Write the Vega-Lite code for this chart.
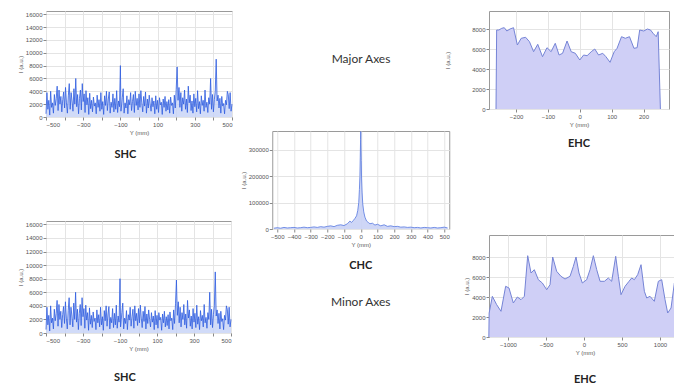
{
  "$schema": "https://vega.github.io/schema/vega-lite/v6.json",
  "padding": {"left": 16, "top": 10, "right": 0, "bottom": 0},
  "background": "white",
  "config": {
    "font": "Lato",
    "view": {"stroke": "#9a9a9a", "strokeWidth": 1},
    "axis": {"labelFontSize": 6, "titleFontSize": 6, "labelColor": "#555", "titleColor": "#555", "titleFontWeight": "normal", "tickColor": "#888", "tickSize": 3, "domain": false, "gridColor": "#e4e4e4", "labelFont": "Liberation Sans", "titleFont": "Liberation Sans", "labelPadding": 1, "titlePadding": 2},
    "title": {"font": "Lato", "fontSize": 11, "fontWeight": "bold", "color": "#222"}
  },
  "datasets": {
    "shc": [
      {"x": -500, "y": 500}, {"x": -495, "y": 3800}, {"x": -490, "y": 1200}, {"x": -485, "y": 2600}, {"x": -480, "y": 300}, {"x": -475, "y": 4000}, {"x": -470, "y": 1500}, {"x": -465, "y": 2200}, {"x": -460, "y": 600}, {"x": -455, "y": 3500},
      {"x": -450, "y": 1800}, {"x": -445, "y": 2900}, {"x": -440, "y": 4800}, {"x": -435, "y": 1000}, {"x": -430, "y": 4200}, {"x": -425, "y": 2000}, {"x": -420, "y": 3200}, {"x": -415, "y": 800}, {"x": -410, "y": 2700}, {"x": -405, "y": 3900},
      {"x": -400, "y": 1400}, {"x": -395, "y": 4600}, {"x": -390, "y": 2200}, {"x": -385, "y": 600}, {"x": -380, "y": 3300}, {"x": -375, "y": 5200}, {"x": -370, "y": 1200}, {"x": -365, "y": 3800}, {"x": -360, "y": 2500}, {"x": -355, "y": 900},
      {"x": -350, "y": 4400}, {"x": -345, "y": 2000}, {"x": -340, "y": 6000}, {"x": -335, "y": 1600}, {"x": -330, "y": 3500}, {"x": -325, "y": 500}, {"x": -320, "y": 2900}, {"x": -315, "y": 4200}, {"x": -310, "y": 1100}, {"x": -305, "y": 5200},
      {"x": -300, "y": 2400}, {"x": -295, "y": 3600}, {"x": -290, "y": 700}, {"x": -285, "y": 4100}, {"x": -280, "y": 1900}, {"x": -275, "y": 3000}, {"x": -270, "y": 400}, {"x": -265, "y": 3700}, {"x": -260, "y": 1300}, {"x": -255, "y": 2600},
      {"x": -250, "y": 800}, {"x": -245, "y": 3100}, {"x": -240, "y": 1700}, {"x": -235, "y": 2200}, {"x": -230, "y": 500}, {"x": -225, "y": 3400}, {"x": -220, "y": 1500}, {"x": -215, "y": 2700}, {"x": -210, "y": 900}, {"x": -205, "y": 3800},
      {"x": -200, "y": 1200}, {"x": -195, "y": 2400}, {"x": -190, "y": 400}, {"x": -185, "y": 3300}, {"x": -180, "y": 1800}, {"x": -175, "y": 4000}, {"x": -170, "y": 1000}, {"x": -165, "y": 2800}, {"x": -160, "y": 3900}, {"x": -155, "y": 600},
      {"x": -150, "y": 2300}, {"x": -145, "y": 1500}, {"x": -140, "y": 3600}, {"x": -135, "y": 800}, {"x": -130, "y": 2900}, {"x": -125, "y": 1200}, {"x": -120, "y": 4100}, {"x": -115, "y": 700}, {"x": -110, "y": 2500}, {"x": -105, "y": 1600},
      {"x": -100, "y": 8000}, {"x": -97, "y": 900}, {"x": -93, "y": 2000}, {"x": -90, "y": 3000}, {"x": -85, "y": 4400}, {"x": -80, "y": 600}, {"x": -75, "y": 2200}, {"x": -70, "y": 1400}, {"x": -65, "y": 3300}, {"x": -60, "y": 500},
      {"x": -55, "y": 2700}, {"x": -50, "y": 1900}, {"x": -45, "y": 3800}, {"x": -40, "y": 1000}, {"x": -35, "y": 2400}, {"x": -30, "y": 3500}, {"x": -25, "y": 700}, {"x": -20, "y": 4000}, {"x": -15, "y": 1800}, {"x": -10, "y": 2900},
      {"x": -5, "y": 1100}, {"x": 0, "y": 3600}, {"x": 5, "y": 1500}, {"x": 10, "y": 4100}, {"x": 15, "y": 2200}, {"x": 20, "y": 800}, {"x": 25, "y": 3200}, {"x": 30, "y": 1700}, {"x": 35, "y": 3900}, {"x": 40, "y": 600},
      {"x": 45, "y": 2800}, {"x": 50, "y": 1400}, {"x": 55, "y": 3400}, {"x": 60, "y": 2000}, {"x": 65, "y": 900}, {"x": 70, "y": 3000}, {"x": 75, "y": 1600}, {"x": 80, "y": 2500}, {"x": 85, "y": 500}, {"x": 90, "y": 3300},
      {"x": 95, "y": 1200}, {"x": 100, "y": 2600}, {"x": 105, "y": 700}, {"x": 110, "y": 3000}, {"x": 115, "y": 1900}, {"x": 120, "y": 2300}, {"x": 125, "y": 400}, {"x": 130, "y": 2800}, {"x": 135, "y": 1500}, {"x": 140, "y": 3200},
      {"x": 145, "y": 900}, {"x": 150, "y": 2400}, {"x": 155, "y": 1100}, {"x": 160, "y": 2700}, {"x": 165, "y": 600}, {"x": 170, "y": 3100}, {"x": 175, "y": 1800}, {"x": 180, "y": 2200}, {"x": 185, "y": 500}, {"x": 190, "y": 3400},
      {"x": 195, "y": 1400}, {"x": 200, "y": 4300}, {"x": 205, "y": 7800}, {"x": 210, "y": 2600}, {"x": 215, "y": 4600}, {"x": 220, "y": 1500}, {"x": 225, "y": 3800}, {"x": 230, "y": 900}, {"x": 235, "y": 3000}, {"x": 240, "y": 2000},
      {"x": 245, "y": 4200}, {"x": 250, "y": 1200}, {"x": 255, "y": 2800}, {"x": 260, "y": 700}, {"x": 265, "y": 4800}, {"x": 270, "y": 2200}, {"x": 275, "y": 3400}, {"x": 280, "y": 1000}, {"x": 285, "y": 2500}, {"x": 290, "y": 600},
      {"x": 295, "y": 3600}, {"x": 300, "y": 1600}, {"x": 305, "y": 2900}, {"x": 310, "y": 800}, {"x": 315, "y": 4100}, {"x": 320, "y": 1300}, {"x": 325, "y": 2400}, {"x": 330, "y": 500}, {"x": 335, "y": 3300}, {"x": 340, "y": 1800},
      {"x": 345, "y": 2600}, {"x": 350, "y": 900}, {"x": 355, "y": 4200}, {"x": 360, "y": 1500}, {"x": 365, "y": 2300}, {"x": 370, "y": 700}, {"x": 375, "y": 3000}, {"x": 380, "y": 2000}, {"x": 385, "y": 6000}, {"x": 390, "y": 1200},
      {"x": 395, "y": 3500}, {"x": 400, "y": 800}, {"x": 405, "y": 2700}, {"x": 410, "y": 4000}, {"x": 415, "y": 9000}, {"x": 420, "y": 2500}, {"x": 425, "y": 3400}, {"x": 430, "y": 1400}, {"x": 435, "y": 2900}, {"x": 440, "y": 600},
      {"x": 445, "y": 3200}, {"x": 450, "y": 1700}, {"x": 455, "y": 2100}, {"x": 460, "y": 500}, {"x": 465, "y": 2600}, {"x": 470, "y": 1900}, {"x": 475, "y": 4000}, {"x": 480, "y": 3500}, {"x": 485, "y": 1300}, {"x": 490, "y": 3800},
      {"x": 495, "y": 900}, {"x": 500, "y": 2000}
    ],
    "chc": [
      {"x": -520, "y": 3000}, {"x": -500, "y": 5000}, {"x": -480, "y": 3000}, {"x": -460, "y": 6000}, {"x": -440, "y": 4000}, {"x": -420, "y": 5000}, {"x": -400, "y": 6000}, {"x": -380, "y": 4000}, {"x": -360, "y": 5000}, {"x": -340, "y": 7000},
      {"x": -320, "y": 5000}, {"x": -300, "y": 6000}, {"x": -280, "y": 8000}, {"x": -260, "y": 6000}, {"x": -240, "y": 9000}, {"x": -220, "y": 7000}, {"x": -200, "y": 10000}, {"x": -180, "y": 12000}, {"x": -160, "y": 9000}, {"x": -140, "y": 14000},
      {"x": -120, "y": 16000}, {"x": -100, "y": 13000}, {"x": -80, "y": 20000}, {"x": -65, "y": 30000}, {"x": -55, "y": 25000}, {"x": -45, "y": 32000}, {"x": -35, "y": 40000}, {"x": -25, "y": 50000}, {"x": -18, "y": 70000}, {"x": -12, "y": 100000},
      {"x": -8, "y": 150000}, {"x": -5, "y": 200000}, {"x": -3, "y": 270000}, {"x": -1, "y": 340000}, {"x": 0, "y": 370000}, {"x": 1, "y": 330000}, {"x": 3, "y": 260000}, {"x": 5, "y": 190000}, {"x": 8, "y": 140000}, {"x": 12, "y": 95000},
      {"x": 18, "y": 65000}, {"x": 25, "y": 45000}, {"x": 35, "y": 30000}, {"x": 45, "y": 25000}, {"x": 55, "y": 20000}, {"x": 70, "y": 22000}, {"x": 85, "y": 15000}, {"x": 100, "y": 18000}, {"x": 120, "y": 12000}, {"x": 140, "y": 16000},
      {"x": 160, "y": 10000}, {"x": 180, "y": 12000}, {"x": 200, "y": 9000}, {"x": 220, "y": 10000}, {"x": 240, "y": 7000}, {"x": 260, "y": 8000}, {"x": 280, "y": 6000}, {"x": 300, "y": 7000}, {"x": 320, "y": 5000}, {"x": 340, "y": 6000},
      {"x": 360, "y": 4000}, {"x": 380, "y": 6000}, {"x": 400, "y": 5000}, {"x": 420, "y": 4000}, {"x": 440, "y": 6000}, {"x": 460, "y": 4000}, {"x": 480, "y": 5000}, {"x": 500, "y": 7000}, {"x": 520, "y": 4000}
    ],
    "ehc1": [
      {"x": -263, "y": 0}, {"x": -261, "y": 7900}, {"x": -254, "y": 7900}, {"x": -245, "y": 8070}, {"x": -237, "y": 8130}, {"x": -229, "y": 7800}, {"x": -219, "y": 8000}, {"x": -208, "y": 8130}, {"x": -196, "y": 6400}, {"x": -184, "y": 7070},
      {"x": -170, "y": 7170}, {"x": -158, "y": 6730}, {"x": -145, "y": 5730}, {"x": -132, "y": 6470}, {"x": -117, "y": 5230}, {"x": -103, "y": 6130}, {"x": -90, "y": 5730}, {"x": -77, "y": 6570}, {"x": -65, "y": 5400}, {"x": -54, "y": 5570},
      {"x": -40, "y": 6800}, {"x": -27, "y": 5730}, {"x": -14, "y": 5570}, {"x": 0, "y": 4900}, {"x": 12, "y": 5400}, {"x": 23, "y": 5330}, {"x": 36, "y": 5730}, {"x": 47, "y": 6000}, {"x": 59, "y": 5400}, {"x": 72, "y": 5570},
      {"x": 82, "y": 5230}, {"x": 95, "y": 4670}, {"x": 108, "y": 5730}, {"x": 117, "y": 6070}, {"x": 131, "y": 7230}, {"x": 143, "y": 7070}, {"x": 156, "y": 7230}, {"x": 170, "y": 6070}, {"x": 180, "y": 6130}, {"x": 188, "y": 7900},
      {"x": 201, "y": 7800}, {"x": 212, "y": 8000}, {"x": 222, "y": 7900}, {"x": 230, "y": 7570}, {"x": 240, "y": 7230}, {"x": 246, "y": 7730}, {"x": 253, "y": 0}
    ],
    "ehc2": [
      {"x": -1252, "y": 0}, {"x": -1248, "y": 2400}, {"x": -1206, "y": 4070}, {"x": -1149, "y": 3230}, {"x": -1092, "y": 2570}, {"x": -1031, "y": 5070}, {"x": -987, "y": 4900}, {"x": -930, "y": 3400}, {"x": -877, "y": 4000}, {"x": -829, "y": 3730},
      {"x": -785, "y": 4070}, {"x": -741, "y": 8130}, {"x": -697, "y": 6400}, {"x": -654, "y": 6730}, {"x": -601, "y": 5730}, {"x": -548, "y": 5400}, {"x": -491, "y": 4730}, {"x": -447, "y": 5230}, {"x": -412, "y": 8000}, {"x": -360, "y": 6570},
      {"x": -303, "y": 6070}, {"x": -250, "y": 5800}, {"x": -184, "y": 6070}, {"x": -140, "y": 7070}, {"x": -105, "y": 8000}, {"x": -66, "y": 6400}, {"x": -22, "y": 5400}, {"x": 35, "y": 5730}, {"x": 79, "y": 6730}, {"x": 123, "y": 8130},
      {"x": 167, "y": 6730}, {"x": 211, "y": 5570}, {"x": 268, "y": 5570}, {"x": 320, "y": 5900}, {"x": 364, "y": 5570}, {"x": 417, "y": 8070}, {"x": 452, "y": 6070}, {"x": 487, "y": 4230}, {"x": 540, "y": 5070}, {"x": 592, "y": 5570},
      {"x": 627, "y": 5900}, {"x": 662, "y": 5730}, {"x": 706, "y": 6230}, {"x": 750, "y": 7230}, {"x": 794, "y": 4570}, {"x": 825, "y": 3900}, {"x": 868, "y": 4070}, {"x": 925, "y": 3570}, {"x": 978, "y": 5570}, {"x": 1022, "y": 5730},
      {"x": 1066, "y": 3730}, {"x": 1101, "y": 2400}, {"x": 1145, "y": 2900}, {"x": 1189, "y": 5400}, {"x": 1219, "y": 3900}, {"x": 1250, "y": 1730}, {"x": 1262, "y": 0}
    ],
    "major": [{"t": "Major Axes"}]
  },
  "hconcat": [
    {
      "hconcat": [
        {
          "vconcat": [
            {
              "width": 186, "height": 106,
              "data": {"name": "shc"},
              "title": {"text": "SHC", "orient": "bottom", "offset": 14, "frame": "bounds"},
              "encoding": {
                "x": {"field": "x", "type": "quantitative", "scale": {"domain": [-500, 500], "nice": false}, "axis": {"title": "Y (mm)", "values": [-500, -400, -300, -200, -100, 0, 100, 200, 300, 400, 500], "format": "d"}},
                "y": {"field": "y", "type": "quantitative", "scale": {"domain": [0, 16500], "nice": false}, "axis": {"title": "I (a.u.)", "values": [0, 2000, 4000, 6000, 8000, 10000, 12000, 14000, 16000], "format": "d"}}
              },
              "layer": [
                {"mark": {"type": "area", "color": "#c5d2f6", "opacity": 0.8}},
                {"mark": {"type": "line", "color": "#2d5ce0", "strokeWidth": 0.8}}
              ]
            },
            {
              "width": 185, "height": 112,
              "data": {"name": "shc"},
              "title": {"text": "SHC", "orient": "bottom", "offset": 21, "frame": "bounds"},
              "encoding": {
                "x": {"field": "x", "type": "quantitative", "scale": {"domain": [-500, 500], "nice": false}, "axis": {"title": "Y (mm)", "values": [-500, -400, -300, -200, -100, 0, 100, 200, 300, 400, 500], "format": "d"}},
                "y": {"field": "y", "type": "quantitative", "scale": {"domain": [0, 16500], "nice": false}, "axis": {"title": "I (a.u.)", "values": [0, 2000, 4000, 6000, 8000, 10000, 12000, 14000, 16000], "format": "d"}}
              },
              "layer": [
                {"mark": {"type": "area", "color": "#c5d2f6", "opacity": 0.8}},
                {"mark": {"type": "line", "color": "#2d5ce0", "strokeWidth": 0.8}}
              ]
            }
          ],
          "spacing": 59
        },
        {
          "vconcat": [
            {
              "width": 60, "height": 96,
              "view": {"stroke": null},
              "data": {"name": "major"},
              "mark": {"type": "text", "font": "Lato", "fontSize": 12, "color": "#333"},
              "encoding": {"text": {"field": "t"}}
            },
            {
              "width": 177, "height": 98,
              "data": {"name": "chc"},
              "title": {"text": "CHC", "orient": "bottom", "offset": 13, "frame": "group", "subtitle": "Minor Axes", "subtitleFont": "Lato", "subtitleFontSize": 12, "subtitleColor": "#333", "subtitlePadding": 26},
              "encoding": {
                "x": {"field": "x", "type": "quantitative", "scale": {"domain": [-530, 530], "nice": false}, "axis": {"title": "Y (mm)", "values": [-500, -400, -300, -200, -100, 0, 100, 200, 300, 400, 500], "format": "d"}},
                "y": {"field": "y", "type": "quantitative", "scale": {"domain": [0, 372000], "nice": false}, "axis": {"title": "I (a.u.)", "values": [0, 100000, 200000, 300000], "format": "d"}}
              },
              "layer": [
                {"mark": {"type": "area", "color": "#c9d1f5", "opacity": 0.9}},
                {"mark": {"type": "line", "color": "#5577e0", "strokeWidth": 0.8}}
              ]
            }
          ],
          "spacing": 22,
          "center": true
        }
      ],
      "spacing": 4
    },
    {
      "vconcat": [
        {
          "width": 180, "height": 98,
          "data": {"name": "ehc1"},
          "title": {"text": "EHC", "orient": "bottom", "offset": 11},
          "encoding": {
            "x": {"field": "x", "type": "quantitative", "scale": {"domain": [-285, 280], "nice": false}, "axis": {"title": "Y (mm)", "values": [-200, -100, 0, 100, 200], "format": "d"}},
            "y": {"field": "y", "type": "quantitative", "scale": {"domain": [0, 9800], "nice": false}, "axis": {"title": "I (a.u.)", "values": [0, 2000, 4000, 6000, 8000], "format": "d", "titlePadding": 21}}
          },
          "layer": [
            {"mark": {"type": "area", "color": "#cfcff6", "opacity": 1}},
            {"mark": {"type": "line", "color": "#7584d6", "strokeWidth": 1}}
          ]
        },
        {
          "width": 192, "height": 102,
          "data": {"name": "ehc2"},
          "title": {"text": "EHC", "orient": "bottom", "offset": 19},
          "encoding": {
            "x": {"field": "x", "type": "quantitative", "scale": {"domain": [-1250, 1276], "nice": false}, "axis": {"title": "Y (mm)", "values": [-1000, -500, 0, 500, 1000], "format": "d"}},
            "y": {"field": "y", "type": "quantitative", "scale": {"domain": [0, 10200], "nice": false}, "axis": {"title": "I (a.u.)", "values": [0, 2000, 4000, 6000, 8000], "format": "d"}}
          },
          "layer": [
            {"mark": {"type": "area", "color": "#cfcff6", "opacity": 1}},
            {"mark": {"type": "line", "color": "#7584d6", "strokeWidth": 1}}
          ]
        }
      ],
      "spacing": 84
    }
  ],
  "spacing": -6
}
